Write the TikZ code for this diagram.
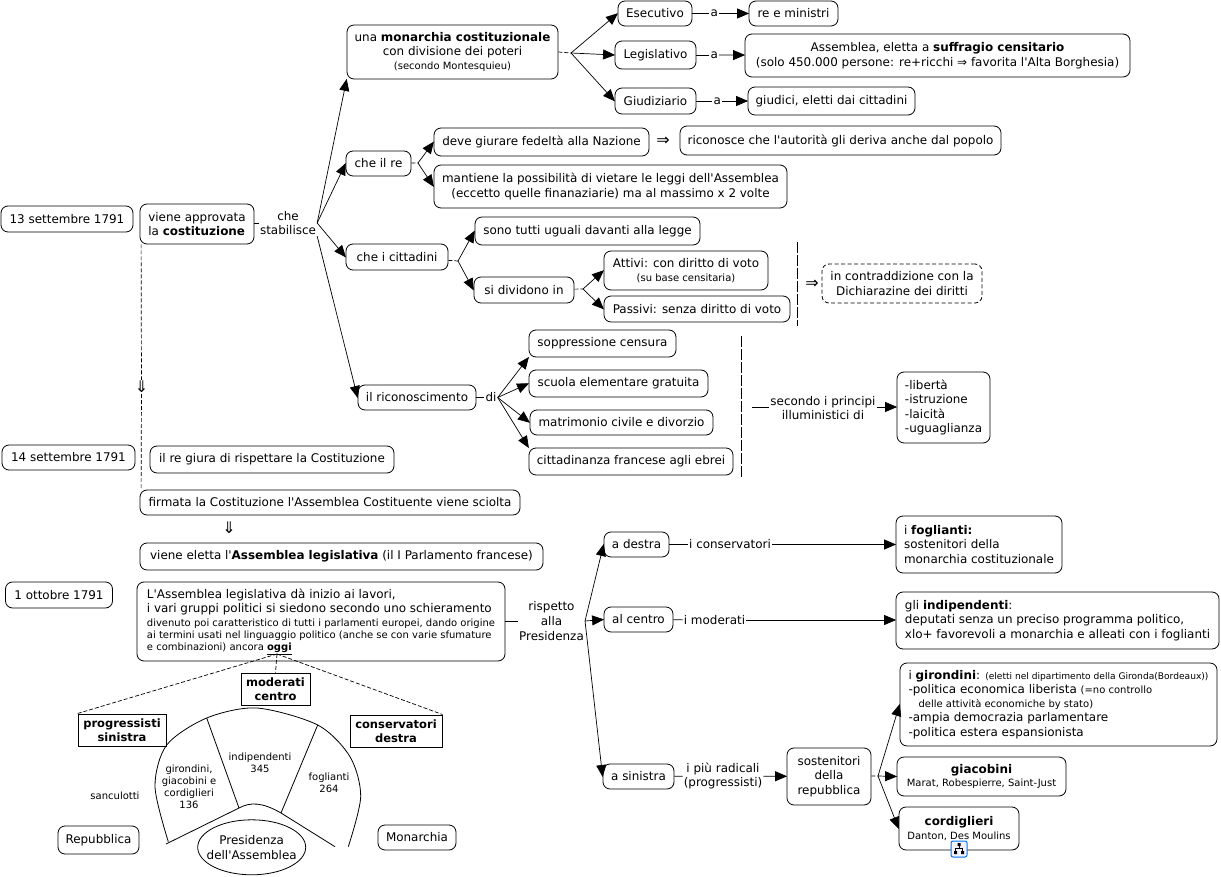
\documentclass[tikz,border=0pt]{standalone}
\usepackage{fontspec}
\setmainfont[Ligatures=TeXOff]{DejaVu Sans}
\usetikzlibrary{arrows.meta,positioning,calc,shapes.geometric}
\newcommand{\smalltxt}{\fontsize{10}{12}\selectfont}
\newcommand{\tinytxt}{\fontsize{9.1}{12}\selectfont}
\begin{document}
\begin{tikzpicture}[
  x=1pt,y=-1pt,
  font=\fontsize{11.95}{14.6}\selectfont,
  box/.style={draw,rounded corners=7pt,align=center,inner sep=0pt,line width=0.8pt},
  lbox/.style={box,align=left},
  dbox/.style={box,dashed,dash pattern=on 4pt off 2.5pt},
  sbox/.style={draw,align=center,inner sep=0pt,line width=1pt,font=\fontsize{11.5}{14.4}\selectfont\bfseries},
  txt/.style={align=center,inner sep=1pt},
  smtxt/.style={txt,font=\smalltxt},
  bigarr/.style={txt,font=\fontsize{16}{16}\selectfont},
  >={Triangle[length=12pt,width=10pt]},
  conn/.style={->,line width=0.7pt,shorten >=-0.5pt},
  plain/.style={line width=0.7pt},
  dsh/.style={plain,dashed,dash pattern=on 4pt off 2pt},
  sep/.style={line width=0.7pt,dash pattern=on 11pt off 2pt}]
\useasboundingbox (0,0) rectangle (1221,877);
% left column
\node[box,minimum width=132pt,minimum height=26pt] (d13) at (67,219) {13 settembre 1791};
\node[box,minimum width=133pt,minimum height=25pt] (d14) at (68.5,457.5) {14 settembre 1791};
\node[box,minimum width=107pt,minimum height=26pt] (d1) at (59,595) {1 ottobre 1791};
\node[lbox,minimum width=114pt,minimum height=40pt] (app) at (197,224) {viene approvata\\la \textbf{costituzione}};
\node[txt] (stab) at (288,223) {che\\stabilisce};
\node[box,minimum width=244pt,minimum height=27pt] (giura) at (272,459.5) {il re giura di rispettare la Costituzione};
\node[box,minimum width=380pt,minimum height=25pt] (firm) at (330,502.5) {firmata la Costituzione l'Assemblea Costituente viene sciolta};
\node[box,minimum width=403pt,minimum height=27pt] (elet) at (341.5,556.5) {viene eletta l'\textbf{Assemblea legislativa} (il I Parlamento francese)};
\node[lbox,minimum width=368pt,minimum height=79pt] (lav) at (321,621.5) {L'Assemblea legislativa dà inizio ai lavori,\\i vari gruppi politici si siedono secondo uno schieramento\\[-1pt]
  {\smalltxt divenuto poi caratteristico di tutti i parlamenti europei, dando origine}\\[-2.5pt]
  {\smalltxt ai termini usati nel linguaggio politico (anche se con varie sfumature}\\[-2.5pt]
  {\smalltxt e combinazioni) ancora \underline{\textbf{oggi}}}};
\node[bigarr] (giu1) at (141.5,387) {⇓};
\node[bigarr] (giu2) at (229,528) {⇓};
\draw[dsh] ([xshift=1.5pt]app.south west) -- (giu1) -- ([xshift=1.5pt]firm.north west);
\draw[plain] (app.east |- stab) -- (stab);
% monarchia
\node[box,minimum width=211pt,minimum height=54pt] (mon) at (452.5,52) {una \textbf{monarchia costituzionale}\\con divisione dei poteri\\[-1pt]{\smalltxt (secondo Montesquieu)}};
\node[box,minimum width=74pt,minimum height=25pt] (esec) at (655,13.5) {Esecutivo};
\node[box,minimum width=81pt,minimum height=28pt] (legi) at (655.5,55) {Legislativo};
\node[box,minimum width=81pt,minimum height=26pt] (giud) at (655.5,101) {Giudiziario};
\node[txt,right=17pt of esec] (a1) {a};
\node[txt,right=13pt of legi] (a2) {a};
\node[txt,right=16pt of giud] (a3) {a};
\node[box,minimum width=89pt,minimum height=25pt] (rem) at (793.5,13.5) {re e ministri};
\node[box,minimum width=385pt,minimum height=43pt] (ass) at (937.5,55.5) {Assemblea, eletta a \textbf{suffragio censitario}\\(solo 450.000 persone: re+ricchi ⇒ favorita l'Alta Borghesia)};
\node[box,minimum width=167pt,minimum height=28pt] (gdc) at (831.5,101) {giudici, eletti dai cittadini};
\coordinate (jmon) at (571,53);
\draw[conn] (stab.east) -- (mon.south west);
\draw[dsh] (mon.east) -- (jmon);
\foreach \t in {esec,legi,giud} \draw[conn] (jmon) -- (\t.west);
\draw[plain] (esec) -- (a1);
\draw[conn] (a1) -- (rem);
\draw[plain] (legi) -- (a2);
\draw[conn] (a2) -- (ass);
\draw[plain] (giud) -- (a3);
\draw[conn] (a3) -- (gdc);
% re
\node[box,minimum width=65pt,minimum height=25pt] (cre) at (378.5,163.5) {che il re};
\node[box,minimum width=215pt,minimum height=28pt] (deve) at (541.5,142) {deve giurare fedeltà alla Nazione};
\node[bigarr] (imp1) at (663,141) {⇒};
\node[box,minimum width=321pt,minimum height=29pt] (ric) at (840.5,140.5) {riconosce che l'autorità gli deriva anche dal popolo};
\node[box,minimum width=353pt,minimum height=43pt] (mant) at (610.5,186.5) {mantiene la possibilità di vietare le leggi dell'Assemblea\\(eccetto quelle finanaziarie) ma al massimo x 2 volte};
\coordinate (jre) at (418,163);
\draw[conn] (stab.east) -- (cre.west);
\draw[dsh] (cre) -- (jre);
\draw[conn] (jre) -- (deve.west);
\draw[conn] (jre) -- (mant.west);
% cittadini
\node[box,minimum width=102pt,minimum height=26pt] (cit) at (397,257) {che i cittadini};
\node[box,minimum width=225pt,minimum height=28pt] (uguali) at (587.5,231) {sono tutti uguali davanti alla legge};
\node[box,minimum width=100pt,minimum height=26pt] (divi) at (524,290) {si dividono in};
\node[box,minimum width=164pt,minimum height=39pt] (att) at (686,270.5) {Attivi: con diritto di voto\\[-1pt]{\smalltxt (su base censitaria)}};
\node[box,minimum width=186pt,minimum height=26pt] (pas) at (697,309) {Passivi: senza diritto di voto};
\coordinate (jcit) at (458,261);
\coordinate (jdiv) at (583,289);
\draw[conn] (stab.east) -- (cit.west);
\draw[dsh] (cit) -- (jcit);
\draw[conn] (jcit) -- (uguali.west);
\draw[conn] (jcit) -- (divi.west);
\draw[dsh] (divi) -- (jdiv);
\draw[conn] (jdiv) -- (att.west);
\draw[conn] (jdiv) -- (pas.west);
\coordinate (sep1a) at (797,242);
\coordinate (sep1b) at (797,326);
\draw[sep] (sep1a) -- (sep1b);
\node[bigarr] (imp2) at (812,284) {⇒};
\node[dbox,minimum width=160pt,minimum height=39pt] (contr) at (902,283.5) {in contraddizione con la\\Dichiarazine dei diritti};
% riconoscimento
\node[box,minimum width=118pt,minimum height=25pt] (rico) at (417,397.5) {il riconoscimento};
\node[txt,right=8pt of rico] (di) {di};
\node[box,minimum width=147pt,minimum height=27pt] (sopp) at (602.5,343.5) {soppressione censura};
\node[box,minimum width=179pt,minimum height=27pt] (scuo) at (618.5,383.5) {scuola elementare gratuita};
\node[box,minimum width=183pt,minimum height=25pt] (matr) at (621.5,422.5) {matrimonio civile e divorzio};
\node[box,minimum width=204pt,minimum height=27pt] (ebr) at (631,461.5) {cittadinanza francese agli ebrei};
\draw[conn] (stab.south east) -- (rico.west);
\draw[plain] (rico) -- (di);
\draw[conn] (di.east) -- (sopp.south west);
\draw[conn] (di.east) -- (scuo.west);
\draw[conn] (di.east) -- (matr.west);
\draw[conn] (di.east) -- (ebr.north west);
\coordinate (sep2a) at (741,336);
\coordinate (sep2b) at (741,478);
\draw[sep] (sep2a) -- (sep2b);
\coordinate (sec0) at (752,407);
\node[txt] (sec) at (823,408) {secondo i principi\\illuministici di};
\node[lbox,minimum width=93pt,minimum height=71pt] (lib) at (943.5,407.5) {-libertà\\-istruzione\\-laicità\\-uguaglianza};
\draw[plain] (sec0) -- (sec.west |- sec0);
\draw[conn] (sec.east |- sec0) -- (lib.west |- sec0);
% presidenza
\node[txt] (risp) at (551.5,621) {rispetto\\alla\\Presidenza};
\node[box,minimum width=65pt,minimum height=25pt] (dest) at (636.5,544.5) {a destra};
\node[box,minimum width=69pt,minimum height=25pt] (cent) at (638.5,619.5) {al centro};
\node[box,minimum width=71pt,minimum height=25pt] (sini) at (638.5,776.5) {a sinistra};
\node[txt] (icons) at (730,544.5) {i conservatori};
\node[txt] (imod) at (714.5,620) {i moderati};
\node[txt] (irad) at (723,776) {i più radicali\\(progressisti)};
\node[lbox,minimum width=166pt,minimum height=57pt] (fogl) at (979,544.5) {i \textbf{foglianti:}\\sostenitori della\\monarchia costituzionale};
\node[lbox,minimum width=323pt,minimum height=57pt] (indi) at (1057.5,620.5) {gli \textbf{indipendenti}:\\deputati senza un preciso programma politico,\\xlo+ favorevoli a monarchia e alleati con i foglianti};
\node[box,minimum width=84pt,minimum height=57pt] (sost) at (829,776.5) {sostenitori\\della\\repubblica};
\node[lbox,minimum width=317pt,minimum height=83pt] (giro) at (1058.5,704.5) {i \textbf{girondini}: {\tinytxt (eletti nel dipartimento della Gironda(Bordeaux))}\\-politica economica liberista {\smalltxt (=no controllo}\\[-1pt]
  {\smalltxt\hspace{10pt}delle attività economiche by stato)}\\-ampia democrazia parlamentare\\-politica estera espansionista};
\node[box,minimum width=169pt,minimum height=39pt] (giac) at (981.5,776.5) {\textbf{giacobini}\\[-1pt]{\smalltxt Marat, Robespierre, Saint-Just}};
\node[box,minimum width=120pt,minimum height=43pt] (cord) at (959,828.5) {\textbf{cordiglieri}\\[-1pt]{\smalltxt Danton, Des Moulins}};
\coordinate (jrep) at (878,776);
\draw[plain] (lav.east |- risp) -- (risp);
\draw[conn] (risp.east) -- (dest.west);
\draw[conn] (risp.east) -- (cent.west);
\draw[conn] (risp.east) -- (sini.west);
\draw[plain] (dest) -- (icons);
\draw[conn] (icons) -- (fogl.west |- icons);
\draw[plain] (cent) -- (imod);
\draw[conn] (imod) -- (indi.west |- imod);
\draw[plain] (sini) -- (irad);
\draw[conn] (irad) -- (sost);
\draw[dsh] (sost) -- (jrep);
\draw[conn] (jrep) -- (giro.west);
\draw[conn] (jrep) -- (giac.west);
\draw[conn] (jrep) -- (cord.west);
% icona
\node[draw=blue!55!cyan,fill=blue!5,rounded corners=2pt,line width=1pt,minimum size=16pt,inner sep=0pt] (icona) at (959,849) {};
\draw[line width=0.7pt] (icona.center) ++(0,-5) -- ++(0,4) ++(-3.5,0) -- ++(7,0) ++(-7,0) -- ++(0,4) ++(7,-4) -- ++(0,4);
\fill (icona.center) ++(-1.5,-6) rectangle ++(3,3) (icona.center) ++(-5,2) rectangle ++(3,3) (icona.center) ++(2,2) rectangle ++(3,3);
% emiciclo
\coordinate (oggi) at (277,654);
\node[sbox,minimum width=69pt,minimum height=32pt] (modc) at (275.5,689) {moderati\\centro};
\node[sbox,minimum width=88pt,minimum height=32pt] (prog) at (122,730) {progressisti\\sinistra};
\node[sbox,minimum width=92pt,minimum height=32pt] (cons) at (396,731) {conservatori\\destra};
\draw[dsh] (oggi) -- (prog.north west);
\draw[dsh] (oggi) -- (modc.north);
\draw[dsh] (oggi) -- (cons.north east);
\draw[line width=0.8pt] plot[smooth] coordinates {(168.3,841.7) (155,786.7) (166.7,745) (206.7,718) (256.7,708) (317.7,725) (350,756.7) (360.7,796.7) (348.3,846.7)};
\draw[line width=0.8pt] (166,844) -- (239,808) .. controls (250,802) and (262,802) .. (281,813) -- (335,846.7);
\draw[line width=0.8pt] (206.7,718) -- (239,808);
\draw[line width=0.8pt] (317.7,725) -- (281,813);
\node[draw,ellipse,line width=0.8pt,minimum width=108pt,minimum height=55pt,inner sep=0pt] (pres) at (251.7,847.3) {};
\node[txt] (prest) at (pres) {Presidenza\\dell'Assemblea};
\node[smtxt] (sgiro) at (189,786.7) {girondini,\\giacobini e\\cordiglieri\\136};
\node[smtxt] (sind) at (260,763) {indipendenti\\345};
\node[smtxt] (sfog) at (329,783) {foglianti\\264};
\node[smtxt] (sanc) at (115,796) {sanculotti};
\node[box,minimum width=81pt,minimum height=28pt] (repu) at (98.5,840) {Repubblica};
\node[box,minimum width=78pt,minimum height=25pt] (mona) at (417,837.5) {Monarchia};
\end{tikzpicture}
\end{document}
